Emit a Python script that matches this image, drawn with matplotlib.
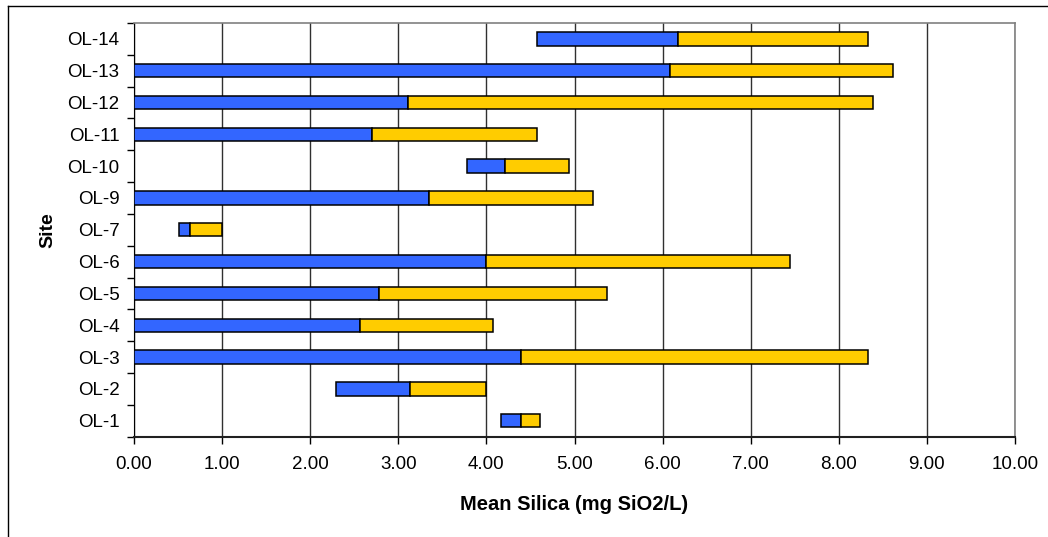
import matplotlib.pyplot as plt
from matplotlib.lines import Line2D
import numpy as np

plt.rcParams['font.family'] = ['Liberation Sans', 'DejaVu Sans']

# Sites from bottom to top, with low / middle / high silica values
sites = ["OL-1", "OL-2", "OL-3", "OL-4", "OL-5", "OL-6", "OL-7",
         "OL-9", "OL-10", "OL-11", "OL-12", "OL-13", "OL-14"]
lows = [4.17, 2.29, 0.00, 0.00, 0.00, 0.00, 0.51, 0.00, 3.78, 0.00, 0.00, 0.00, 4.57]
mids = [4.39, 3.13, 4.39, 2.57, 2.78, 4.00, 0.64, 3.35, 4.21, 2.70, 3.11, 6.08, 6.17]
highs = [4.61, 4.00, 8.33, 4.07, 5.37, 7.45, 1.00, 5.21, 4.94, 4.58, 8.39, 8.61, 8.33]

lows = np.array(lows)
mids = np.array(mids)
highs = np.array(highs)
y = np.arange(len(sites))

fig = plt.figure(figsize=(10.48, 5.37), dpi=100)
ax = fig.add_axes([134 / 1048, 1 - 436.6 / 537, 881 / 1048, 413.6 / 537])

# outer chart border (top and left visible)
fig.add_artist(Line2D([7.5 / 1048, 1.0], [1 - 5.5 / 537, 1 - 5.5 / 537],
                      transform=fig.transFigure, color='black', lw=1))
fig.add_artist(Line2D([7.5 / 1048, 7.5 / 1048], [0, 1 - 5.5 / 537],
                      transform=fig.transFigure, color='black', lw=1))

h = 0.42
ax.barh(y, mids - lows, left=lows, height=h, color='#3366FF',
        edgecolor='black', linewidth=1.1, zorder=3)
ax.barh(y, highs - mids, left=mids, height=h, color='#FFCC00',
        edgecolor='black', linewidth=1.1, zorder=3)

ax.set_xlim(0, 10)
ax.set_ylim(-0.5, len(sites) - 0.5)
ax.set_xticks(np.arange(0, 11, 1))
ax.set_xticklabels([f"{v:.2f}" for v in range(11)], fontsize=13.5)
ax.set_yticks(y)
ax.set_yticklabels(sites, fontsize=13.5)
ax.set_yticks(np.arange(-0.5, len(sites), 1), minor=True)
ax.tick_params(axis='y', which='major', length=0, pad=10.5)
ax.tick_params(axis='y', which='minor', length=5, width=1, color='black')
ax.tick_params(axis='x', length=5, width=1, pad=9)

ax.grid(axis='x', color='#303030', lw=1, zorder=1)
for s in ['top', 'right']:
    ax.spines[s].set_color('#808080')
    ax.spines[s].set_linewidth(1.2)
ax.spines['left'].set_color('black')
ax.spines['bottom'].set_color('#202020')
ax.spines['bottom'].set_linewidth(1.5)

ax.set_xlabel("Mean Silica (mg SiO2/L)", fontsize=14.5, fontweight='bold', labelpad=16)
ax.set_ylabel("Site", fontsize=14, fontweight='bold', labelpad=8)

fig.savefig("out.png", dpi=100)
